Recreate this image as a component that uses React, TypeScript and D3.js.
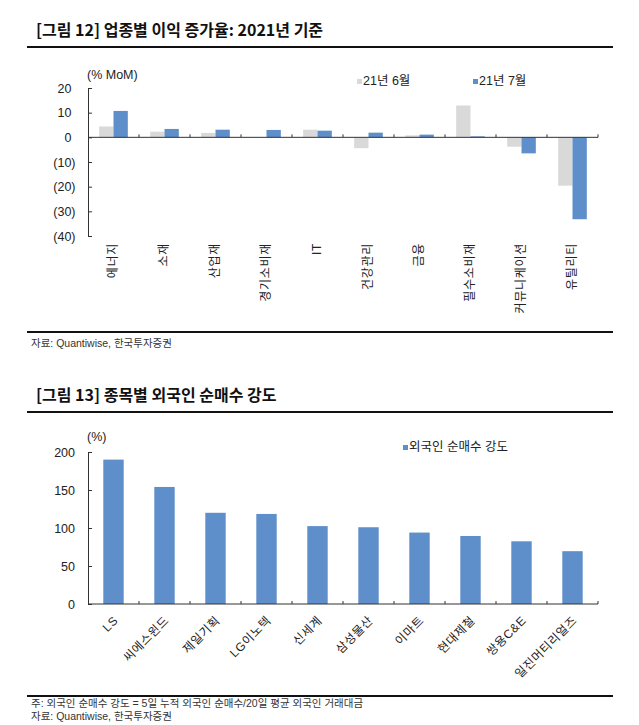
import React, { useEffect, useRef } from 'react';
import * as d3 from 'd3';

// [그림 12] 업종별 이익 증가율
const sectors = ['에너지', '소재', '산업재', '경기소비재', 'IT', '건강관리', '금융', '필수소비재', '커뮤니케이션', '유틸리티'];
const growthSeries = ['21년 6월', '21년 7월'];
const junGrowth = [4.4, 2.3, 1.8, 0, 3.1, -4.4, 0.8, 12.9, -3.8, -19.6];
const julGrowth = [10.7, 3.4, 3.1, 3.0, 2.7, 1.9, 1.1, 0.4, -6.5, -33.2];
const growthTicks = [20, 10, 0, -10, -20, -30, -40];

// [그림 13] 종목별 외국인 순매수 강도
const stocks = ['LS', '씨에스윈드', '제일기획', 'LG이노텍', '신세계', '삼성물산', '이마트', '현대제철', '쌍용C&E', '일진머티리얼즈'];
const buyIntensity = [190, 154, 120, 118.5, 102.5, 101, 94, 89.5, 82.5, 69.5];
const intensityTicks = [0, 50, 100, 150, 200];

const GRAY = '#d9d9d9';
const BLUE = '#5f8fcb';
const AXIS = '#333';
const TEXT = '#222';
const FONT = "'Liberation Sans', 'Noto Sans CJK KR', sans-serif";
const KFONT = "'Noto Sans CJK KR', sans-serif";

const App: React.FC = () => {
  const svgRef = useRef<SVGSVGElement | null>(null);

  useEffect(() => {
    if (!svgRef.current) return;
    const svg = d3.select(svgRef.current);
    svg.selectAll('*').remove();

    // shared header / footer pieces
    const header = (title: string, y: number, ruleY: number) => {
      svg.append('text')
        .attr('x', 36).attr('y', y)
        .attr('dominant-baseline', 'middle')
        .style('font-family', KFONT).style('font-size', '16px').style('font-weight', 700)
        .style('fill', '#111')
        .text(title);
      svg.append('rect').attr('x', 27).attr('y', ruleY - 1).attr('width', 586).attr('height', 2).attr('fill', '#111');
    };
    const note = (txt: string, y: number) => {
      svg.append('text')
        .attr('x', 31).attr('y', y)
        .attr('dominant-baseline', 'middle')
        .style('font-family', FONT).style('font-size', '10.5px').style('fill', '#333')
        .text(txt);
    };

    // ---------- chart 1 ----------
    header('[그림 12] 업종별 이익 증가율: 2021년 기준', 32, 47);

    const x1 = d3.scaleBand<string>().domain(sectors).range([88, 598]);
    const xs1 = d3.scaleBand<string>().domain(growthSeries).range([0, x1.bandwidth()]).paddingOuter(0.78);
    const y1 = d3.scaleLinear().domain([-40, 20]).range([236, 88]);

    const g1 = svg.append('g');
    const yAxis1 = g1.append('g')
      .attr('transform', 'translate(88,0)')
      .call(d3.axisLeft(y1).tickValues(growthTicks).tickSizeInner(-4).tickSizeOuter(0).tickPadding(16.5)
        .tickFormat((d) => (+d < 0 ? `(${Math.abs(+d)})` : `${d}`)));
    yAxis1.select('.domain').attr('stroke', AXIS);
    yAxis1.selectAll('.tick line').attr('stroke', AXIS);
    yAxis1.selectAll<SVGTextElement, number>('.tick text')
      .attr('x', (d) => (d < 0 ? -12.5 : -16.5))
      .style('font-family', FONT).style('font-size', '12.5px').style('fill', TEXT);

    const barData1 = sectors.flatMap((s, i) => [
      { s, k: growthSeries[0], v: junGrowth[i], c: GRAY },
      { s, k: growthSeries[1], v: julGrowth[i], c: BLUE },
    ]);
    g1.selectAll('rect.bar')
      .data(barData1)
      .enter()
      .append('rect')
      .attr('class', 'bar')
      .attr('x', (d) => (x1(d.s) as number) + (xs1(d.k) as number))
      .attr('width', xs1.bandwidth())
      .attr('y', (d) => y1(Math.max(0, d.v)))
      .attr('height', (d) => Math.abs(y1(d.v) - y1(0)))
      .attr('fill', (d) => d.c);

    // category axis on the zero line
    const zero1 = y1(0);
    g1.append('line').attr('x1', 88).attr('x2', 598).attr('y1', zero1).attr('y2', zero1).attr('stroke', AXIS);
    g1.selectAll('line.xt')
      .data(d3.range(1, sectors.length + 1))
      .enter()
      .append('line')
      .attr('class', 'xt')
      .attr('x1', (i) => 88 + i * x1.step()).attr('x2', (i) => 88 + i * x1.step())
      .attr('y1', zero1 - 3).attr('y2', zero1)
      .attr('stroke', AXIS);

    g1.selectAll('text.cat')
      .data(sectors)
      .enter()
      .append('text')
      .attr('class', 'cat')
      .attr('transform', (d) => `translate(${(x1(d) as number) + x1.bandwidth() / 2},243) rotate(-90)`)
      .attr('text-anchor', 'end')
      .attr('dominant-baseline', 'middle')
      .style('font-family', FONT).style('font-size', '12px').style('fill', TEXT)
      .style('letter-spacing', '0.7px')
      .text((d) => d);

    g1.append('text').attr('x', 87).attr('y', 76).attr('dominant-baseline', 'middle')
      .style('font-family', FONT).style('font-size', '12.5px').style('fill', TEXT).text('(% MoM)');

    const legend1 = [
      { k: growthSeries[0], c: GRAY, x: 357 },
      { k: growthSeries[1], c: BLUE, x: 473 },
    ];
    legend1.forEach((l) => {
      g1.append('rect').attr('x', l.x).attr('y', 79).attr('width', 5).attr('height', 5).attr('fill', l.c);
      g1.append('text').attr('x', l.x + 6).attr('y', 82).attr('dominant-baseline', 'middle')
        .style('font-family', FONT).style('font-size', '12.5px').style('fill', TEXT).text(l.k);
    });

    svg.append('rect').attr('x', 27).attr('y', 331).attr('width', 586).attr('height', 2).attr('fill', '#111');
    note('자료: Quantiwise, 한국투자증권', 344);

    // ---------- chart 2 ----------
    header('[그림 13] 종목별 외국인 순매수 강도', 397, 412);

    const x2 = d3.scaleBand<string>().domain(stocks).range([88, 598]).paddingInner(0.6).paddingOuter(0.3);
    const xCat2 = d3.scaleBand<string>().domain(stocks).range([88, 598]);
    const y2 = d3.scaleLinear().domain([0, 200]).range([604, 452]);

    const g2 = svg.append('g');
    const yAxis2 = g2.append('g')
      .attr('transform', 'translate(88,0)')
      .call(d3.axisLeft(y2).tickValues(intensityTicks).tickSizeInner(-4).tickSizeOuter(0).tickPadding(13));
    yAxis2.select('.domain').attr('stroke', AXIS);
    yAxis2.selectAll('.tick line').attr('stroke', AXIS);
    yAxis2.selectAll('.tick text').style('font-family', FONT).style('font-size', '12.5px').style('fill', TEXT);

    g2.selectAll('rect.bar')
      .data(stocks)
      .enter()
      .append('rect')
      .attr('class', 'bar')
      .attr('x', (d) => x2(d) as number)
      .attr('width', x2.bandwidth())
      .attr('y', (_, i) => y2(buyIntensity[i]))
      .attr('height', (_, i) => y2(0) - y2(buyIntensity[i]))
      .attr('fill', BLUE);

    const zero2 = y2(0);
    g2.append('line').attr('x1', 88).attr('x2', 598).attr('y1', zero2).attr('y2', zero2).attr('stroke', AXIS);
    g2.selectAll('line.xt')
      .data(d3.range(1, stocks.length + 1))
      .enter()
      .append('line')
      .attr('class', 'xt')
      .attr('x1', (i) => 88 + i * xCat2.step()).attr('x2', (i) => 88 + i * xCat2.step())
      .attr('y1', zero2 - 3).attr('y2', zero2)
      .attr('stroke', AXIS);

    g2.selectAll('text.cat')
      .data(stocks)
      .enter()
      .append('text')
      .attr('class', 'cat')
      .attr('transform', (d) => `translate(${(xCat2(d) as number) + xCat2.bandwidth() / 2 + 3},619) rotate(-45)`)
      .attr('text-anchor', 'end')
      .attr('dominant-baseline', 'middle')
      .style('font-family', FONT).style('font-size', '12px').style('fill', TEXT)
      .style('letter-spacing', '0.6px')
      .text((d) => d);

    g2.append('text').attr('x', 87).attr('y', 438).attr('dominant-baseline', 'middle')
      .style('font-family', FONT).style('font-size', '12.5px').style('fill', TEXT).text('(%)');

    g2.append('rect').attr('x', 403).attr('y', 445).attr('width', 5).attr('height', 5).attr('fill', BLUE);
    g2.append('text').attr('x', 409).attr('y', 447.5).attr('dominant-baseline', 'middle')
      .style('font-family', FONT).style('font-size', '12.5px').style('fill', TEXT).text('외국인 순매수 강도');

    svg.append('rect').attr('x', 27).attr('y', 695).attr('width', 586).attr('height', 2).attr('fill', '#111');
    note('주: 외국인 순매수 강도 = 5일 누적 외국인 순매수/20일 평균 외국인 거래대금', 704);
    note('자료: Quantiwise, 한국투자증권', 717);
  }, []);

  return (
    <svg
      ref={svgRef}
      width={639}
      height={725}
      style={{ position: 'absolute', left: 0, top: 0, background: '#fff' }}
    />
  );
};

export default App;
